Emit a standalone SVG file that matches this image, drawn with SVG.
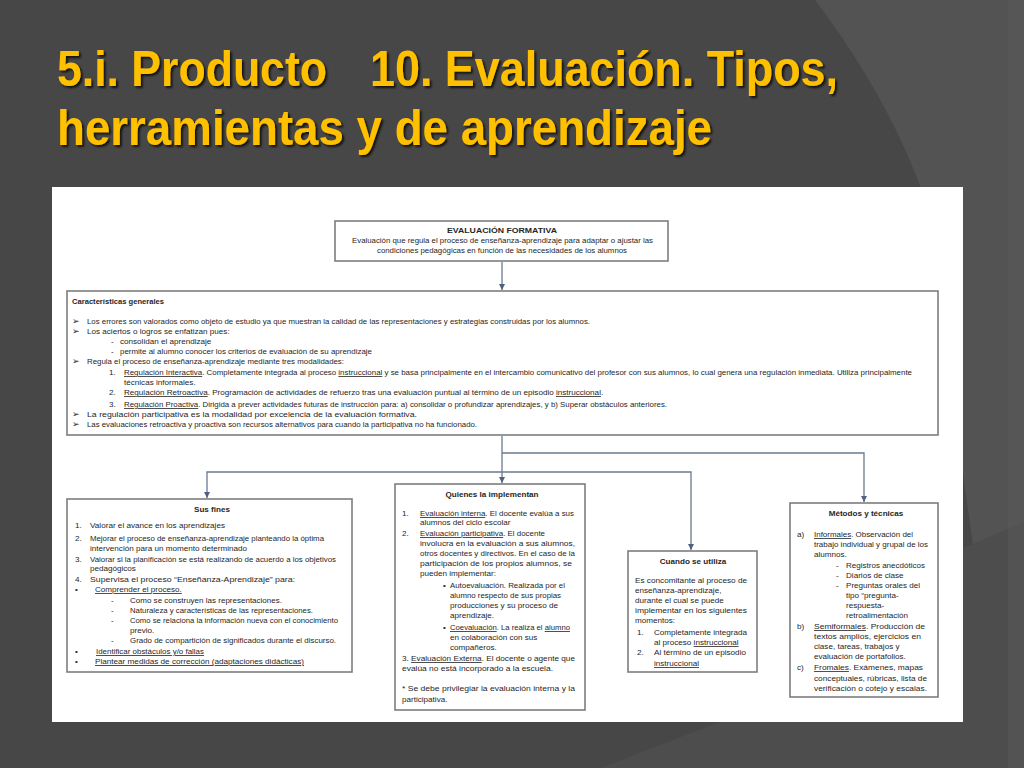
<svg xmlns="http://www.w3.org/2000/svg" width="1024" height="768" viewBox="0 0 1024 768">
<style>
.t{font-family:"Liberation Sans",Arial,sans-serif;font-size:8.1px;fill:#262626}
.b{font-weight:bold}
.c{text-anchor:middle}
.u{text-decoration:underline}
.sq{text-decoration:underline;text-decoration-color:#d03030}
.ar{font-family:"DejaVu Sans",sans-serif;font-size:9px;fill:#262626}
.box{fill:#ffffff;stroke:#7d7d7d;stroke-width:1.6}
.con{fill:none;stroke:#6a7b90;stroke-width:1.3}
.ttl{font-family:"Liberation Sans",Arial,sans-serif;font-weight:bold;font-size:50px;fill:#FFC000}
</style>
<defs>
<marker id="ah" markerWidth="6" markerHeight="6" refX="6" refY="3" orient="auto" markerUnits="userSpaceOnUse"><path d="M0,0 L6,3 L0,6 Z" fill="#4d6180"/></marker>
<filter id="sh" x="-5%" y="-20%" width="110%" height="140%"><feDropShadow dx="2" dy="2" stdDeviation="1" flood-color="#000" flood-opacity="0.75"/></filter>
</defs>
<g id="background">
<rect x="0" y="0" width="1024" height="768" fill="#474747"/>
<path d="M815,0 C868,70 905,140 925,200 L975,560 L1024,530 L1024,0 Z" fill="#535353"/>
<path d="M600,768 L720,722 L963,722 L963,548 L1024,522 L1024,768 Z" fill="#4d4d4d"/>
<rect x="1008" y="0" width="16" height="768" fill="#585858" opacity="0.6"/>
</g>
<g id="title" filter="url(#sh)">
<text class="ttl" x="57" y="86" textLength="270" lengthAdjust="spacingAndGlyphs">5.i. Producto</text>
<text class="ttl" x="370" y="86" textLength="468" lengthAdjust="spacingAndGlyphs">10. Evaluación. Tipos,</text>
<text class="ttl" x="57" y="145" textLength="655" lengthAdjust="spacingAndGlyphs">herramientas y de aprendizaje</text>
</g>
<rect id="panel" x="52" y="187" width="911" height="535" fill="#ffffff"/>
<g id="connectors">
<path class="con" d="M502,262 V290" marker-end="url(#ah)"/>
<path class="con" d="M502,436 V483" marker-end="url(#ah)"/>
<path class="con" d="M502,453 H864 V502" marker-end="url(#ah)"/>
<path class="con" d="M502,472 H691 V550" marker-end="url(#ah)"/>
<path class="con" d="M502,472 H207 V498" marker-end="url(#ah)"/>
</g>
<g id="node-evaluacion-formativa">
<rect class="box" x="335" y="221" width="333" height="40"/>
<text class="t b c" x="502" y="233" textLength="110" lengthAdjust="spacingAndGlyphs">EVALUACIÓN FORMATIVA</text>
<text class="t c" x="502.5" y="243" textLength="301" lengthAdjust="spacingAndGlyphs">Evaluación que regula el proceso de enseñanza-aprendizaje para adaptar o ajustar las</text>
<text class="t c" x="502" y="253" textLength="250" lengthAdjust="spacingAndGlyphs">condiciones pedagógicas en función de las necesidades de los alumnos</text>
</g>
<g id="node-caracteristicas">
<rect class="box" x="67" y="291" width="871" height="144"/>
<text class="t b" x="72" y="304" textLength="92" lengthAdjust="spacingAndGlyphs">Características generales</text>
<text class="ar" x="72" y="324">➢</text>
<text class="t" x="87" y="324" textLength="503" lengthAdjust="spacingAndGlyphs">Los errores son valorados como objeto de estudio ya que muestran la calidad de las representaciones y estrategias construidas por los alumnos.</text>
<text class="ar" x="72" y="334">➢</text>
<text class="t" x="87" y="334">Los aciertos o logros se enfatizan pues:</text>
<text class="t" x="111" y="344">-</text>
<text class="t" x="120" y="344">consolidan el aprendizaje</text>
<text class="t" x="111" y="354">-</text>
<text class="t" x="120" y="354" textLength="252" lengthAdjust="spacingAndGlyphs">permite al alumno conocer los criterios de evaluación de su aprendizaje</text>
<text class="ar" x="72" y="364">➢</text>
<text class="t" x="87" y="364" textLength="257" lengthAdjust="spacingAndGlyphs">Regula el proceso de enseñanza-aprendizaje mediante tres modalidades:</text>
<text class="t" x="109" y="375">1.</text>
<text class="t" x="124" y="375" textLength="788" lengthAdjust="spacingAndGlyphs"><tspan class="u">Regulación Interactiva</tspan>. Completamente integrada al proceso <tspan class="sq">instruccional</tspan> y se basa principalmente en el intercambio comunicativo del profesor con sus alumnos, lo cual genera una regulación inmediata. Utiliza principalmente</text>
<text class="t" x="124" y="385">técnicas informales.</text>
<text class="t" x="109" y="395">2.</text>
<text class="t" x="124" y="395"><tspan class="u">Regulación Retroactiva</tspan>. Programación de actividades de refuerzo tras una evaluación puntual al término de un episodio <tspan class="sq">instruccional</tspan>.</text>
<text class="t" x="109" y="407">3.</text>
<text class="t" x="124" y="407" textLength="543" lengthAdjust="spacingAndGlyphs"><tspan class="u">Regulación Proactiva</tspan>. Dirigida a prever actividades futuras de instrucción para: a) consolidar o profundizar aprendizajes, y b) Superar obstáculos anteriores.</text>
<text class="ar" x="72" y="417">➢</text>
<text class="t" x="87" y="417" textLength="330" lengthAdjust="spacingAndGlyphs">La regulación participativa es la modalidad por excelencia de la evaluación formativa.</text>
<text class="ar" x="72" y="427">➢</text>
<text class="t" x="87" y="427" textLength="390" lengthAdjust="spacingAndGlyphs">Las evaluaciones retroactiva y proactiva son recursos alternativos para cuando la participativa no ha funcionado.</text>
</g>
<g id="node-sus-fines">
<rect class="box" x="67" y="499" width="285" height="173"/>
<text class="t b c" x="212" y="512">Sus fines</text>
<text class="t" x="75" y="528">1.</text>
<text class="t" x="90" y="528" textLength="135" lengthAdjust="spacingAndGlyphs">Valorar el avance en los aprendizajes</text>
<text class="t" x="75" y="541">2.</text>
<text class="t" x="90" y="541" textLength="234" lengthAdjust="spacingAndGlyphs">Mejorar el proceso de enseñanza-aprendizaje planteando la óptima</text>
<text class="t" x="90" y="551" textLength="157" lengthAdjust="spacingAndGlyphs">intervención para un momento determinado</text>
<text class="t" x="75" y="562">3.</text>
<text class="t" x="90" y="562" textLength="246" lengthAdjust="spacingAndGlyphs">Valorar si la planificación se está realizando de acuerdo a los objetivos</text>
<text class="t" x="90" y="571">pedagógicos</text>
<text class="t" x="75" y="582">4.</text>
<text class="t" x="90" y="582" textLength="205" lengthAdjust="spacingAndGlyphs">Supervisa el proceso “Enseñanza-Aprendizaje” para:</text>
<text class="t" x="75" y="592">•</text>
<text class="t u" x="95" y="592">Comprender el proceso.</text>
<text class="t" x="111" y="603">-</text>
<text class="t" x="130" y="603" textLength="152" lengthAdjust="spacingAndGlyphs">Como se construyen las representaciones.</text>
<text class="t" x="111" y="613">-</text>
<text class="t" x="130" y="613" textLength="183" lengthAdjust="spacingAndGlyphs">Naturaleza y características de las representaciones.</text>
<text class="t" x="111" y="623">-</text>
<text class="t" x="130" y="623" textLength="208" lengthAdjust="spacingAndGlyphs">Como se relaciona la información nueva con el conocimiento</text>
<text class="t" x="130" y="633">previo.</text>
<text class="t" x="111" y="643">-</text>
<text class="t" x="130" y="643" textLength="206" lengthAdjust="spacingAndGlyphs">Grado de compartición de significados durante el discurso.</text>
<text class="t" x="75" y="654">•</text>
<text class="t u" x="96" y="654" textLength="108" lengthAdjust="spacingAndGlyphs">Identificar obstáculos y/o fallas</text>
<text class="t" x="75" y="664">•</text>
<text class="t u" x="95" y="664" textLength="209" lengthAdjust="spacingAndGlyphs">Plantear medidas de corrección (adaptaciones didácticas)</text>
</g>
<g id="node-quienes">
<rect class="box" x="395" y="484" width="190" height="226"/>
<text class="t b c" x="492" y="497">Quienes la implementan</text>
<text class="t" x="402" y="516">1.</text>
<text class="t" x="420" y="516" textLength="154" lengthAdjust="spacingAndGlyphs"><tspan class="u">Evaluación interna</tspan>. El docente evalúa a sus</text>
<text class="t" x="420" y="525">alumnos del ciclo escolar</text>
<text class="t" x="402" y="536">2.</text>
<text class="t" x="420" y="536" textLength="125" lengthAdjust="spacingAndGlyphs"><tspan class="u">Evaluación participativa</tspan>. El docente</text>
<text class="t" x="420" y="546" textLength="155" lengthAdjust="spacingAndGlyphs">involucra en la evaluación a sus alumnos,</text>
<text class="t" x="420" y="556" textLength="155" lengthAdjust="spacingAndGlyphs">otros docentes y directivos. En el caso de la</text>
<text class="t" x="420" y="566" textLength="152" lengthAdjust="spacingAndGlyphs">participación de los propios alumnos, se</text>
<text class="t" x="420" y="576">pueden implementar:</text>
<text class="t" x="443" y="588">•</text>
<text class="t" x="450" y="588" textLength="115" lengthAdjust="spacingAndGlyphs">Autoevaluación. Realizada por el</text>
<text class="t" x="450" y="598" textLength="111" lengthAdjust="spacingAndGlyphs">alumno respecto de sus propias</text>
<text class="t" x="450" y="608" textLength="108" lengthAdjust="spacingAndGlyphs">producciones y su proceso de</text>
<text class="t" x="450" y="618">aprendizaje.</text>
<text class="t" x="443" y="630">•</text>
<text class="t" x="450" y="630" textLength="120" lengthAdjust="spacingAndGlyphs"><tspan class="sq">Coevaluación</tspan>. La realiza el <tspan class="sq">alumno</tspan></text>
<text class="t" x="450" y="640">en colaboración con sus</text>
<text class="t" x="450" y="650">compañeros.</text>
<text class="t" x="402" y="661" textLength="173" lengthAdjust="spacingAndGlyphs">3. <tspan class="u">Evaluación Externa</tspan>. El docente o agente que</text>
<text class="t" x="402" y="671" textLength="151" lengthAdjust="spacingAndGlyphs">evalúa no está incorporado a la escuela.</text>
<text class="t" x="402" y="691" textLength="173" lengthAdjust="spacingAndGlyphs">* Se debe privilegiar la evaluación interna y la</text>
<text class="t" x="402" y="702">participativa.</text>
</g>
<g id="node-cuando">
<rect class="box" x="628" y="551" width="129" height="121"/>
<text class="t b c" x="693" y="564">Cuando se utiliza</text>
<text class="t" x="635" y="583" textLength="112" lengthAdjust="spacingAndGlyphs">Es concomitante al proceso de</text>
<text class="t" x="635" y="593">enseñanza-aprendizaje,</text>
<text class="t" x="635" y="603">durante el cual se puede</text>
<text class="t" x="635" y="613" textLength="112" lengthAdjust="spacingAndGlyphs">implementar en los siguientes</text>
<text class="t" x="635" y="623">momentos:</text>
<text class="t" x="637" y="635">1.</text>
<text class="t" x="654" y="635" textLength="93" lengthAdjust="spacingAndGlyphs">Completamente integrada</text>
<text class="t" x="654" y="645">al proceso <tspan class="sq">instruccional</tspan></text>
<text class="t" x="637" y="655">2.</text>
<text class="t" x="654" y="655" textLength="92" lengthAdjust="spacingAndGlyphs">Al término de un episodio</text>
<text class="t sq" x="654" y="666">instruccional</text>
</g>
<g id="node-metodos">
<rect class="box" x="790" y="503" width="148" height="194"/>
<text class="t b c" x="866" y="516">Métodos y técnicas</text>
<text class="t" x="797" y="537">a)</text>
<text class="t" x="814" y="537" textLength="99" lengthAdjust="spacingAndGlyphs"><tspan class="u">Informales</tspan>. Observación del</text>
<text class="t" x="814" y="547" textLength="114" lengthAdjust="spacingAndGlyphs">trabajo individual y grupal de los</text>
<text class="t" x="814" y="557">alumnos.</text>
<text class="t" x="836" y="568">-</text>
<text class="t" x="846" y="568" textLength="79" lengthAdjust="spacingAndGlyphs">Registros anecdóticos</text>
<text class="t" x="836" y="578">-</text>
<text class="t" x="846" y="578">Diarios de clase</text>
<text class="t" x="836" y="588">-</text>
<text class="t" x="846" y="588" textLength="74" lengthAdjust="spacingAndGlyphs">Preguntas orales del</text>
<text class="t" x="846" y="598">tipo “pregunta-</text>
<text class="t" x="846" y="608">respuesta-</text>
<text class="t" x="846" y="618">retroalimentación</text>
<text class="t" x="797" y="629">b)</text>
<text class="t" x="814" y="629" textLength="111" lengthAdjust="spacingAndGlyphs"><tspan class="sq">Semiformales</tspan>. Producción de</text>
<text class="t" x="814" y="639" textLength="107" lengthAdjust="spacingAndGlyphs">textos amplios, ejercicios en</text>
<text class="t" x="814" y="649">clase, tareas, trabajos y</text>
<text class="t" x="814" y="659">evaluación de portafolios.</text>
<text class="t" x="797" y="670">c)</text>
<text class="t" x="814" y="670" textLength="109" lengthAdjust="spacingAndGlyphs"><tspan class="sq">Fromales</tspan>. Exámenes, mapas</text>
<text class="t" x="814" y="681" textLength="113" lengthAdjust="spacingAndGlyphs">conceptuales, rúbricas, lista de</text>
<text class="t" x="814" y="691" textLength="113" lengthAdjust="spacingAndGlyphs">verificación o cotejo y escalas.</text>
</g>
</svg>
